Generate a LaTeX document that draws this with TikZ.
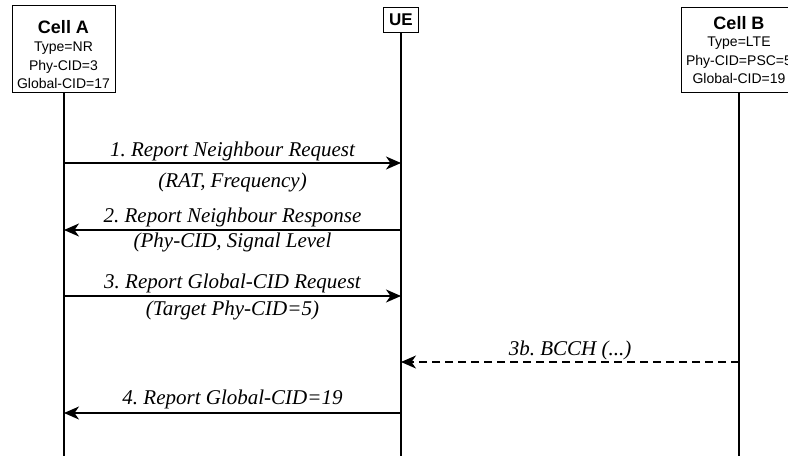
\documentclass[tikz,border=0pt]{standalone}
\usepackage{fontspec}
\setmainfont{Liberation Serif}
\setsansfont{Liberation Sans}
\usetikzlibrary{arrows.meta}
\frenchspacing
\begin{document}
\begin{tikzpicture}[x=1pt,y=-1pt,
 entity/.style={draw, line width=1pt, font=\sffamily\fontsize{14}{18.5}\selectfont, align=center, inner sep=0pt, anchor=north},
 life/.style={line width=1.2pt},
 msg/.style={line width=1.3pt, -{Stealth[length=15pt,width=13pt,inset=4.5pt]}},
 reply/.style={msg, dash pattern=on 8pt off 5pt},
 lbl/.style={font=\itshape\fontsize{21}{24}\selectfont, anchor=base, inner sep=0pt}
]
\clip (0,0) rectangle (788,456);
% entities
\node[entity, minimum width=103pt, minimum height=87pt] (cellA) at (63.5,5)
  {\rule{0pt}{24pt}{\bfseries\fontsize{18}{20}\selectfont Cell A}\\[0pt]Type=NR\\Phy-CID=3\\Global-CID=17};
\node[entity, minimum width=35pt, minimum height=25pt, font=\sffamily\bfseries\fontsize{17}{20}\selectfont] (ue) at (401,7) {UE};
\node[entity, minimum width=116pt, minimum height=85pt] (cellB) at (739,7)
  {{\bfseries\fontsize{18}{20}\selectfont Cell B}\\[-1pt]Type=LTE\\Phy-CID=PSC=5\\Global-CID=19};
% lifeline ends
\coordinate (endA) at (64,456);
\coordinate (endU) at (401,456);
\coordinate (endB) at (739,456);
\draw[life] (cellA.south -| endA) -- (endA);
\draw[life] (ue.south) -- (endU);
\draw[life] (cellB.south) -- (endB);
% message anchors
\coordinate (A1) at (64,163);  \coordinate (U1) at (401,163);
\coordinate (A2) at (64,230);  \coordinate (U2) at (401,230);
\coordinate (A3) at (64,296);  \coordinate (U3) at (401,296);
\coordinate (U3b) at (401,362); \coordinate (B3b) at (739,362);
\coordinate (A4) at (64,413);  \coordinate (U4) at (401,413);
% messages
\draw[msg] (A1) -- (U1);
\draw[msg] (U2) -- (A2);
\draw[msg] (A3) -- (U3);
\draw[reply] (B3b) -- (U3b);
\draw[msg] (U4) -- (A4);
% labels
\node[lbl] (l1) at (232.5,156) {1. Report Neighbour Request};
\node[lbl] (l1b) at (232.5,187) {(RAT, Frequency)};
\node[lbl] (l2) at (232.5,222) {2. Report Neighbour Response};
\node[lbl] (l2b) at (232.5,247) {(Phy-CID, Signal Level};
\node[lbl] (l3) at (232.5,288) {3. Report Global-CID Request};
\node[lbl] (l3b) at (232.5,315) {(Target Phy-CID=5)};
\node[lbl] (l3c) at (570,355) {3b. BCCH (...)};
\node[lbl] (l4) at (232.5,404) {4. Report Global-CID=19};
\end{tikzpicture}
\end{document}
